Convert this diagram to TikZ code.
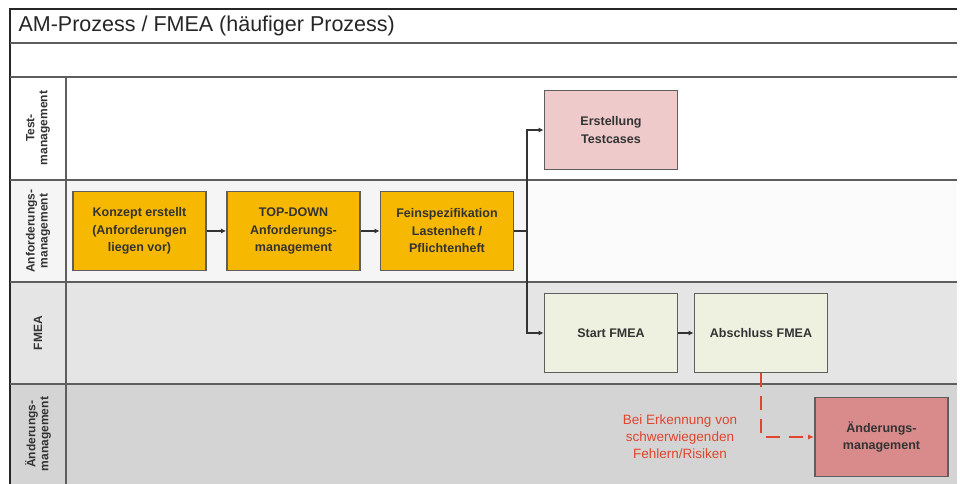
\documentclass[tikz,border=0pt]{standalone}
\usepackage{fontspec}
\setmainfont{Liberation Sans}
\usetikzlibrary{arrows.meta}
\definecolor{laneA}{HTML}{FFFFFF}
\definecolor{laneB}{HTML}{F5F5F5}
\definecolor{laneC}{HTML}{E5E5E5}
\definecolor{laneD}{HTML}{D5D4D4}
\definecolor{gridline}{HTML}{5E5E5E}
\definecolor{amber}{HTML}{F6B800}
\definecolor{rose}{HTML}{EECACA}
\definecolor{sage}{HTML}{EEF1DF}
\definecolor{redbox}{HTML}{D98A8A}
\definecolor{alertred}{HTML}{E0452E}
\tikzset{
  proc/.style={draw=gridline, line width=1.8pt, minimum width=133pt, minimum height=79pt,
    align=center, font=\bfseries\fontsize{12.5}{17.5}\selectfont, text=black!80, inner sep=0pt},
  sep/.style={draw=gridline, line width=2.2pt},
  flow/.style={draw=black!80, line width=1.3pt, -{Latex[length=5pt,width=5pt]}},
  lanelabel/.style={rotate=90, align=center, font=\bfseries\fontsize{12}{13}\selectfont, text=black!80}
}
\begin{document}
\begin{tikzpicture}[x=1pt, y=-1pt]
\useasboundingbox (0,0) rectangle (960,484);
\fill[white] (0,0) rectangle (960,484);
% lane backgrounds
\fill[laneA] (10,77) rectangle (957,180);
\fill[laneB] (10,180) rectangle (957,282);
\fill[white!60!laneB] (528,180) rectangle (957,282);
\fill[laneC] (10,282) rectangle (957,384);
\fill[laneD] (10,384) rectangle (957,484);
% frame and lane separators
\draw[draw=black!85, line width=2.2pt] (10,484) -- (10,9) -- (957,9);
\draw[sep] (10,43) -- (957,43);
\draw[sep] (10,77) -- (957,77);
\draw[sep] (10,180) -- (957,180);
\draw[sep] (10,282) -- (957,282);
\draw[sep] (10,384) -- (957,384);
\draw[sep] (66,77) -- (66,484);
% title
\node[anchor=west, font=\fontsize{21.5}{24}\selectfont, text=black!85] (title) at (15,26) {AM-Prozess / FMEA (häufiger Prozess)};
% lane labels
\node[lanelabel] (lt) at (38,128) {Test-\\management};
\node[lanelabel] (la) at (38,231) {Anforderungs-\\management};
\node[lanelabel] (lf) at (38,333) {FMEA};
\node[lanelabel] (ld) at (38,434) {Änderungs-\\management};
% process steps
\node[proc, fill=amber] (konzept) at (139.5,231) {Konzept erstellt\\(Anforderungen\\liegen vor)};
\node[proc, fill=amber] (topdown) at (293.5,231) {TOP-DOWN\\Anforderungs-\\management};
\node[proc, fill=amber] (fein) at (447,231) {Feinspezifikation\\Lastenheft /\\Pflichtenheft};
\node[proc, fill=rose] (testcases) at (611,130) {Erstellung\\Testcases};
\node[proc, fill=sage] (start) at (611,333) {Start FMEA};
\node[proc, fill=sage] (abschluss) at (761,333) {Abschluss FMEA};
\node[proc, fill=redbox] (aenderung) at (881.5,437) {Änderungs-\\management};
\coordinate (split) at (527,231);
% connectors
\draw[flow] (konzept) -- (topdown);
\draw[flow] (topdown) -- (fein);
\draw[draw=black!80, line width=1.3pt] (fein) -- (split);
\draw[flow] (split) |- (testcases.west);
\draw[flow] (split) |- (start.west);
\draw[flow] (start) -- (abschluss);
\coordinate (bend) at (761,437);
\draw[draw=alertred, line width=1.6pt, dash pattern=on 14pt off 9pt, -{Latex[length=6pt,width=5pt]}]
  (abschluss.south) -- (bend) -- (aenderung.west);
\node[align=center, text=alertred, font=\fontsize{13.5}{17}\selectfont] (cond) at (680,437)
  {Bei Erkennung von\\schwerwiegenden\\Fehlern/Risiken};
\end{tikzpicture}
\end{document}
